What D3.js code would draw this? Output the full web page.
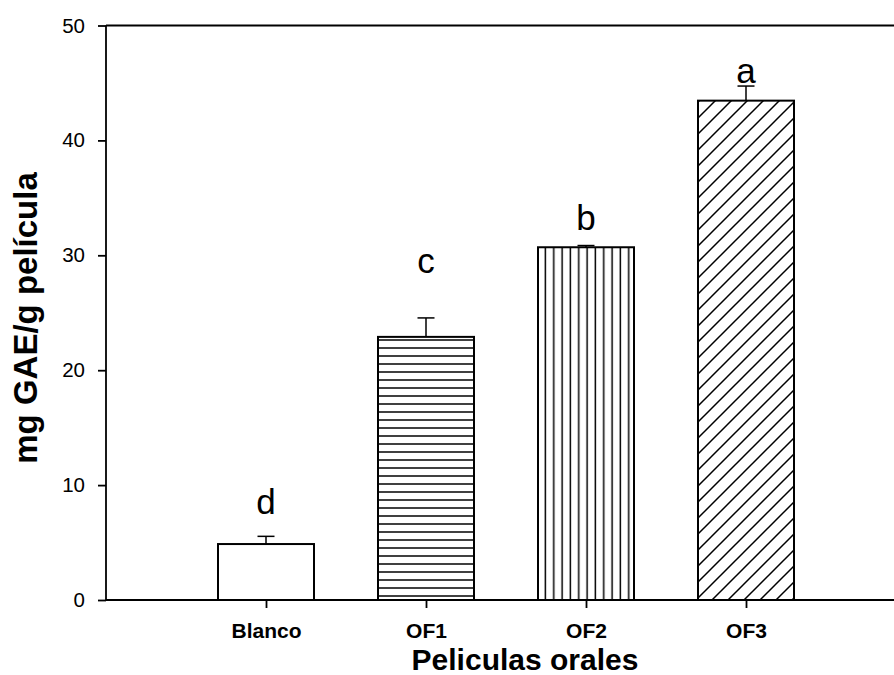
<!DOCTYPE html>
<html>
<head>
<meta charset="utf-8">
<script src="https://cdn.jsdelivr.net/npm/d3@7"></script>
<style>
  body { margin: 0; background: #fff; }
  svg { display: block; font-family: Arial, "Liberation Sans", sans-serif; }
</style>
</head>
<body>
<svg id="svg" width="894" height="675"></svg>
<script>
// data
const categories = ['Blanco', 'OF1', 'OF2', 'OF3'];
const means = [4.87, 22.9, 30.7, 43.46];
const errors = [0.67, 1.65, 0.15, 1.27];
const letters = ['d', 'c', 'b', 'a'];
const letterAt = [7.5, 28.5, 32.2, 45.0];
const yTicks = [0, 10, 20, 30, 40, 50];
const fills = ['#fff', 'url(#hatchH)', 'url(#hatchV)', 'url(#hatchD)'];

const svg = d3.select('#svg');
const plotLeft = 106, plotRight = 906, plotTop = 25.5, plotBottom = 600;

const x = d3.scaleLinear().domain([0, 5]).range([plotLeft, plotRight]);
const y = d3.scaleLinear().domain([0, 50]).range([plotBottom, plotTop]);
const halfW = 0.3;

// hatch patterns
const defs = svg.append('defs');
defs.append('pattern').attr('id', 'hatchH').attr('patternUnits', 'userSpaceOnUse')
  .attr('width', 8).attr('height', 8)
  .append('line').attr('x1', 0).attr('x2', 8).attr('y1', 4).attr('y2', 4)
  .attr('stroke', '#000').attr('stroke-width', 1.5);
defs.append('pattern').attr('id', 'hatchV').attr('patternUnits', 'userSpaceOnUse')
  .attr('width', 8.33).attr('height', 8)
  .append('line').attr('x1', 4).attr('x2', 4).attr('y1', 0).attr('y2', 8)
  .attr('stroke', '#000').attr('stroke-width', 1.5);
const pd = defs.append('pattern').attr('id', 'hatchD').attr('patternUnits', 'userSpaceOnUse')
  .attr('width', 16).attr('height', 16);
pd.append('path').attr('d', 'M-4,4 L4,-4 M0,16 L16,0 M12,20 L20,12')
  .attr('stroke', '#000').attr('stroke-width', 1.5);

// bars
svg.selectAll('.bar')
  .data(means)
  .join('rect')
  .attr('class', 'bar')
  .attr('x', (d, i) => x(i + 1 - halfW))
  .attr('width', (d, i) => x(i + 1 + halfW) - x(i + 1 - halfW))
  .attr('y', d => y(d))
  .attr('height', d => y(0) - y(d))
  .attr('fill', (d, i) => fills[i])
  .attr('stroke', '#000')
  .attr('stroke-width', 2);

// error bars (upper half only)
const eb = svg.selectAll('.err')
  .data(means)
  .join('g')
  .attr('class', 'err');
eb.append('line')
  .attr('x1', (d, i) => x(i + 1)).attr('x2', (d, i) => x(i + 1))
  .attr('y1', d => y(d)).attr('y2', (d, i) => y(d + errors[i]))
  .attr('stroke', '#000').attr('stroke-width', 1.5);
eb.append('line')
  .attr('x1', (d, i) => x(i + 1) - 8.5).attr('x2', (d, i) => x(i + 1) + 8.5)
  .attr('y1', (d, i) => y(d + errors[i])).attr('y2', (d, i) => y(d + errors[i]))
  .attr('stroke', '#000').attr('stroke-width', 1.5);

// significance letters
svg.selectAll('.letter')
  .data(letters)
  .join('text')
  .attr('class', 'letter')
  .attr('x', (d, i) => x(i + 1))
  .attr('y', (d, i) => y(letterAt[i]))
  .attr('text-anchor', 'middle')
  .style('font-size', '35px')
  .text(d => d);

// axes
const yAxis = d3.axisLeft(y).tickValues(yTicks).tickSize(8).tickPadding(13).tickFormat(d3.format('d'));
const yAxisG = svg.append('g').attr('transform', `translate(${plotLeft},0)`).call(yAxis);

const xAxis = d3.axisBottom(x).tickValues([1, 2, 3, 4]).tickSize(8).tickPadding(15)
  .tickFormat(d => categories[d - 1]);
const xAxisG = svg.append('g').attr('transform', `translate(0,${plotBottom})`).call(xAxis);

[yAxisG, xAxisG].forEach(g => {
  g.selectAll('path.domain').attr('stroke', '#000').attr('stroke-width', 1.8);
  g.selectAll('.tick line').attr('stroke', '#000').attr('stroke-width', 1.8);
});
yAxisG.selectAll('.tick text').style('font-size', '20.5px').attr('fill', '#000')
  .attr('font-family', 'Arial, "Liberation Sans", sans-serif');
xAxisG.selectAll('.tick text').style('font-size', '21px').style('font-weight', 'bold').attr('fill', '#000')
  .attr('font-family', 'Arial, "Liberation Sans", sans-serif');
yAxisG.select('path.domain').attr('d', `M0,${plotBottom}V${plotTop}`);
xAxisG.select('path.domain').attr('d', `M${plotLeft},0H${plotRight}`);

// top frame line
svg.append('line')
  .attr('x1', plotLeft).attr('x2', plotRight)
  .attr('y1', plotTop).attr('y2', plotTop)
  .attr('stroke', '#000').attr('stroke-width', 1.8);

// axis titles
svg.append('text')
  .attr('x', 525).attr('y', 670)
  .attr('text-anchor', 'middle')
  .style('font-size', '30px').style('font-weight', 'bold')
  .text('Peliculas orales');

svg.append('text')
  .attr('transform', 'translate(37,318) rotate(-90)')
  .attr('text-anchor', 'middle')
  .style('font-size', '33px').style('font-weight', 'bold')
  .text('mg GAE/g película');
</script>
</body>
</html>
